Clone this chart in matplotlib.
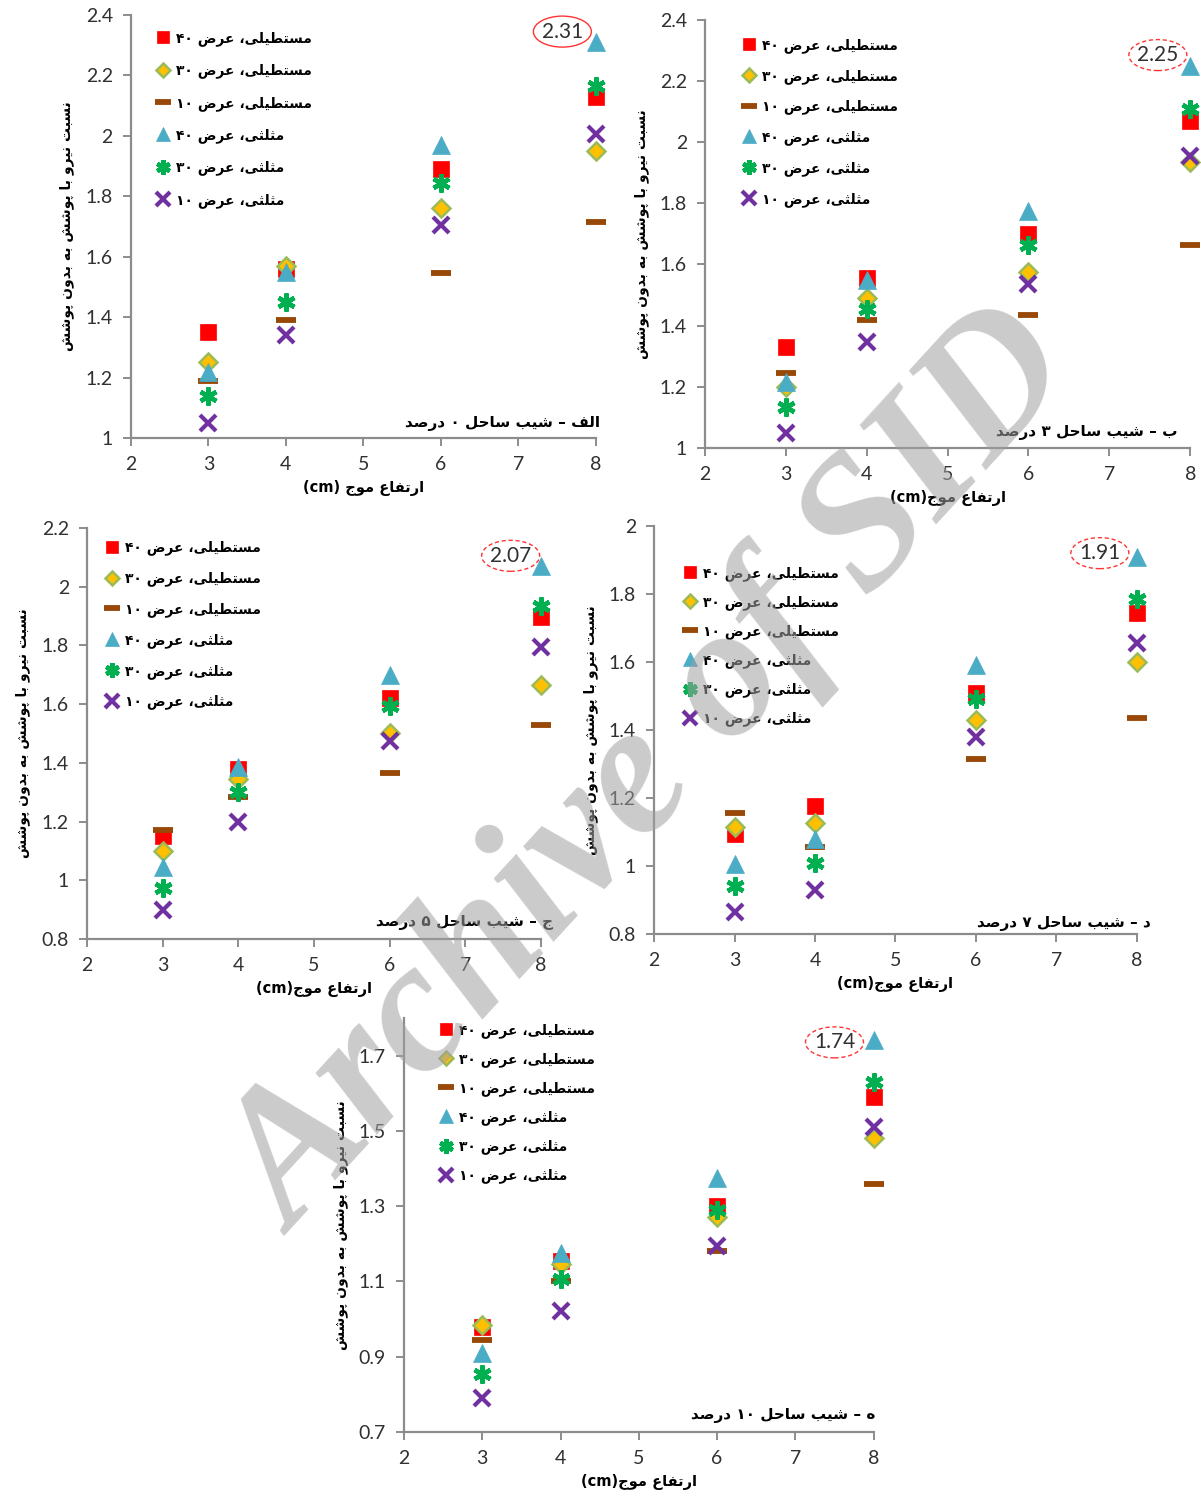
import re

import numpy as np
import matplotlib
matplotlib.use("Agg")
import matplotlib.pyplot as plt
from matplotlib import font_manager, ft2font, transforms
from matplotlib.patches import Ellipse
from matplotlib.ticker import FixedLocator, FuncFormatter

# --------------------------------------------------------------------------- #
# Data
# --------------------------------------------------------------------------- #
wave_height = [3, 4, 6, 8]

series_labels = [
    "مستطیلی، عرض ۴۰",
    "مستطیلی، عرض ۳۰",
    "مستطیلی، عرض ۱۰",
    "مثلثی، عرض ۴۰",
    "مثلثی، عرض ۳۰",
    "مثلثی، عرض ۱۰",
]

# rows follow series_labels order
slope0 = [
    [1.35, 1.56, 1.89, 2.13],
    [1.25, 1.57, 1.76, 1.95],
    [1.19, 1.39, 1.545, 1.715],
    [1.22, 1.55, 1.97, 2.31],
    [1.14, 1.45, 1.845, 2.165],
    [1.05, 1.34, 1.705, 2.005],
]
slope3 = [
    [1.33, 1.555, 1.70, 2.07],
    [1.20, 1.49, 1.575, 1.935],
    [1.245, 1.42, 1.435, 1.665],
    [1.215, 1.55, 1.775, 2.25],
    [1.135, 1.455, 1.665, 2.11],
    [1.05, 1.345, 1.535, 1.955],
]
slope5 = [
    [1.15, 1.38, 1.62, 1.895],
    [1.10, 1.345, 1.50, 1.665],
    [1.17, 1.285, 1.365, 1.53],
    [1.045, 1.385, 1.70, 2.07],
    [0.975, 1.30, 1.595, 1.935],
    [0.90, 1.20, 1.475, 1.795],
]
slope7 = [
    [1.095, 1.175, 1.51, 1.745],
    [1.115, 1.125, 1.43, 1.60],
    [1.155, 1.055, 1.315, 1.435],
    [1.005, 1.08, 1.59, 1.91],
    [0.94, 1.01, 1.49, 1.785],
    [0.865, 0.93, 1.38, 1.655],
]
slope10 = [
    [0.98, 1.155, 1.30, 1.59],
    [0.985, 1.145, 1.27, 1.48],
    [0.945, 1.10, 1.18, 1.36],
    [0.91, 1.175, 1.375, 1.74],
    [0.855, 1.105, 1.29, 1.63],
    [0.79, 1.02, 1.195, 1.51],
]

panel_titles = [
    "الف – شیب ساحل ۰ درصد",
    "ب – شیب ساحل ۳ درصد",
    "ج – شیب ساحل ۵ درصد",
    "د – شیب ساحل ۷ درصد",
    "ه – شیب ساحل ۱۰ درصد",
]
x_labels = [
    "ارتفاع موج (cm)",
    "ارتفاع موج(cm)",
    "ارتفاع موج(cm)",
    "ارتفاع موج(cm)",
    "ارتفاع موج(cm)",
]
y_label = "نسبت نیرو با پوشش به بدون پوشش"
x_ticks = [2, 3, 4, 5, 6, 7, 8]

# --------------------------------------------------------------------------- #
# Minimal Persian shaping (matplotlib does no Arabic joining / bidi)
# --------------------------------------------------------------------------- #
FA_FONT = font_manager.findfont(font_manager.FontProperties(family="DejaVu Sans"))
FA_FONT_B = font_manager.findfont(
    font_manager.FontProperties(family="DejaVu Sans", weight="bold"))
_cmap = set(ft2font.FT2Font(FA_FONT).get_charmap().keys())
_cmap_b = set(ft2font.FT2Font(FA_FONT_B).get_charmap().keys())

FORMS = {
    "ا": (0xFE8D, 0xFE8E, None, None),
    "ب": (0xFE8F, 0xFE90, 0xFE91, 0xFE92),
    "پ": (0xFB56, 0xFB57, 0xFB58, 0xFB59),
    "ت": (0xFE95, 0xFE96, 0xFE97, 0xFE98),
    "ث": (0xFE99, 0xFE9A, 0xFE9B, 0xFE9C),
    "ج": (0xFE9D, 0xFE9E, 0xFE9F, 0xFEA0),
    "ح": (0xFEA1, 0xFEA2, 0xFEA3, 0xFEA4),
    "د": (0xFEA9, 0xFEAA, None, None),
    "ر": (0xFEAD, 0xFEAE, None, None),
    "س": (0xFEB1, 0xFEB2, 0xFEB3, 0xFEB4),
    "ش": (0xFEB5, 0xFEB6, 0xFEB7, 0xFEB8),
    "ص": (0xFEB9, 0xFEBA, 0xFEBB, 0xFEBC),
    "ض": (0xFEBD, 0xFEBE, 0xFEBF, 0xFEC0),
    "ط": (0xFEC1, 0xFEC2, 0xFEC3, 0xFEC4),
    "ع": (0xFEC9, 0xFECA, 0xFECB, 0xFECC),
    "ف": (0xFED1, 0xFED2, 0xFED3, 0xFED4),
    "ل": (0xFEDD, 0xFEDE, 0xFEDF, 0xFEE0),
    "م": (0xFEE1, 0xFEE2, 0xFEE3, 0xFEE4),
    "ن": (0xFEE5, 0xFEE6, 0xFEE7, 0xFEE8),
    "ه": (0xFEE9, 0xFEEA, 0xFEEB, 0xFEEC),
    "و": (0xFEED, 0xFEEE, None, None),
    "ی": (0xFBFC, 0xFBFD, 0xFBFE, 0xFBFF),
}
YEH_FALLBACK = (0xFEEF, 0xFEF0, 0xFEF3, 0xFEF4)


def _shape(s, cmap):
    out = []
    for i, ch in enumerate(s):
        if ch not in FORMS:
            out.append(ch)
            continue
        prev = s[i - 1] if i > 0 else ""
        nxt = s[i + 1] if i + 1 < len(s) else ""
        forms = FORMS[ch]
        if ch == "ی" and forms[0] not in cmap:
            forms = YEH_FALLBACK
        j_prev = prev in FORMS and FORMS[prev][2] is not None
        j_next = forms[2] is not None and nxt in FORMS
        if j_prev and j_next:
            cp = forms[3]
        elif j_prev:
            cp = forms[1]
        elif j_next:
            cp = forms[2]
        else:
            cp = forms[0]
        out.append(chr(cp))
    return "".join(out)


def fa(s, bold=False):
    shaped = _shape(s, _cmap_b if bold else _cmap)
    runs = re.findall(r"[0-9A-Za-z\u06F0-\u06F9.]+|[^0-9A-Za-z\u06F0-\u06F9.]", shaped)
    vis = "".join(reversed(runs))
    return vis.translate(str.maketrans("()", ")("))


# --------------------------------------------------------------------------- #
# Styling
# --------------------------------------------------------------------------- #
NUM_FONT = "Lato"
AXIS_GREY = "#8C8C8C"
TXT = "#303030"

styles = [
    dict(marker="s", ms=11, mfc="#FF0000", mec="#FF0000", mew=0.5),
    dict(marker="D", ms=9.5, mfc="#FFC000", mec="#9BBB59", mew=1.8),
    dict(marker="_", ms=15, mfc="#984807", mec="#984807", mew=4.2),
    dict(marker="^", ms=12.5, mfc="#4BACC6", mec="#4BACC6", mew=0.5),
    dict(marker=(6, 2, 0), ms=13, mfc="#00B050", mec="#00B050", mew=3.2),
    dict(marker="x", ms=12, mfc="#7030A0", mec="#7030A0", mew=3.0),
]

fig = plt.figure(figsize=(12.01, 14.98), dpi=100)
fig.patch.set_facecolor("white")

# rect, ylim, yticks, legend anchor, row spacing, title pos, callout xy, dashed
layout = [
    (slope0, [0.109, 0.7076, 0.387, 0.2824], (1.0, 2.4), np.arange(1.0, 2.41, 0.2),
     (0.056, 0.962), 1.26, (1.01, 0.035), (7.57, 2.345), False),
    (slope3, [0.587, 0.701, 0.404, 0.2857], (1.0, 2.4), np.arange(1.0, 2.41, 0.2),
     (0.078, 0.958), 1.15, (0.973, 0.037), (7.6, 2.285), True),
    (slope5, [0.0724, 0.3732, 0.378, 0.2744], (0.8, 2.2), np.arange(0.8, 2.21, 0.2),
     (0.042, 0.969), 1.15, (1.026, 0.041), (7.6, 2.105), True),
    (slope7, [0.5446, 0.3765, 0.402, 0.2724], (0.8, 2.0), np.arange(0.8, 2.01, 0.2),
     (0.062, 0.902), 1.03, (1.029, 0.025), (7.54, 1.92), True),
    (slope10, [0.3364, 0.0441, 0.391, 0.2764], (0.7, 1.8), np.arange(0.7, 1.71, 0.2),
     (0.076, 0.988), 1.03, (1.004, 0.039), (7.5, 1.735), True),
]

for k, (rows, rect, ylim, yticks, leg_xy, leg_sp, title_xy, call_xy, dashed) in enumerate(layout):
    ax = fig.add_axes(rect)
    ax.set_facecolor("none")
    handles = []
    for vals, st in zip(rows, styles):
        (h,) = ax.plot(wave_height, vals, ls="none", clip_on=False, zorder=3, **st)
        handles.append(h)

    ax.set_xlim(2, 8)
    ax.set_ylim(*ylim)
    ax.xaxis.set_major_locator(FixedLocator(x_ticks))
    ax.yaxis.set_major_locator(FixedLocator(np.round(yticks, 2)))
    ax.yaxis.set_major_formatter(FuncFormatter(lambda v, p: f"{v:g}"))
    for side in ("top", "right"):
        ax.spines[side].set_visible(False)
    for side in ("left", "bottom"):
        ax.spines[side].set_color(AXIS_GREY)
        ax.spines[side].set_linewidth(1.6)
    ax.tick_params(direction="out", length=6, width=1.4, color=AXIS_GREY,
                   labelsize=14, labelcolor=TXT, pad=7)
    for lab in ax.get_xticklabels() + ax.get_yticklabels():
        lab.set_family(NUM_FONT)

    ax.set_xlabel(fa(x_labels[k], True), family="DejaVu Sans", weight="bold",
                  fontsize=10.5, color="black", labelpad=5)
    ax.set_ylabel(fa(y_label, True), family="DejaVu Sans", weight="bold",
                  fontsize=10, color="black", labelpad=8)

    leg = ax.legend(handles, [fa(s, True) for s in series_labels], loc="upper left",
                    bbox_to_anchor=leg_xy, frameon=False, borderaxespad=0,
                    borderpad=0, handlelength=0.9, handletextpad=0.5, markerscale=0.8,
                    labelspacing=leg_sp,
                    prop=dict(family="DejaVu Sans", weight="bold", size=10))
    for t in leg.get_texts():
        t.set_color("black")

    ax.text(title_xy[0], title_xy[1], fa(panel_titles[k], True), transform=ax.transAxes,
            ha="right", va="center", family="DejaVu Sans", weight="bold",
            fontsize=11, color="black")

    peak = rows[3][-1]
    ax.text(call_xy[0], call_xy[1], f"{peak:.2f}", ha="center", va="center",
            family=NUM_FONT, fontsize=15, color=TXT, zorder=4)
    etrans = fig.dpi_scale_trans + transforms.ScaledTranslation(
        call_xy[0], call_xy[1], ax.transData)
    ax.add_patch(Ellipse((0, 0), 0.58, 0.31, transform=etrans, fill=False,
                         ec="#FF3333", lw=1.0, ls=(0, (3, 2)) if dashed else "-",
                         clip_on=False, zorder=4))

# watermark
fig.text(0.545, 0.483, "Archive of SID", rotation=47.5, ha="center", va="center",
         family="Liberation Serif", weight="bold", style="italic", fontsize=135,
         color="#A0A0A0", alpha=0.55, zorder=20)

fig.savefig("out.png", dpi=100)
